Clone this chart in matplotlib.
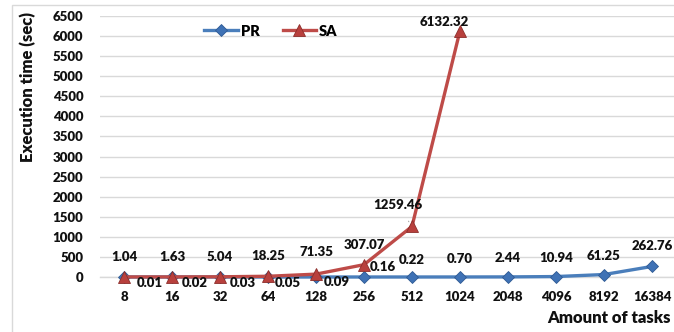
import matplotlib
matplotlib.use("Agg")
import matplotlib.pyplot as plt
from matplotlib.patches import Rectangle

plt.rcParams['font.family'] = ['Lato', 'DejaVu Sans']
plt.rcParams['font.weight'] = 'heavy'
WEIGHT = 'heavy'

tasks = ["8", "16", "32", "64", "128", "256", "512", "1024", "2048", "4096", "8192", "16384"]
pr_times = [0.01, 0.02, 0.03, 0.05, 0.09, 0.16, 0.22, 0.70, 2.44, 10.94, 61.25, 262.76]
sa_times = [1.04, 1.63, 5.04, 18.25, 71.35, 307.07, 1259.46, 6132.32]
y_ticks = list(range(0, 6501, 500))

# label offsets in pixels, per point
pr_offsets = [(26, -6), (23, -6), (23, -6), (20, -6), (21, -5), (19, 10),
              (0, 17), (0, 18), (0, 19), (0, 19), (0, 19), (0, 20)]
sa_offsets = [(0, 20), (0, 20), (0, 20), (0, 20), (0, 22), (0, 20), (-14, 21), (-16, 9)]

W, H = 674, 332
fig = plt.figure(figsize=(W / 100, H / 100), dpi=100)
ax = fig.add_axes([100 / W, (H - 277) / H, 576 / W, 261 / H])

# light chart frame
fig.patches.append(Rectangle((12 / W, -0.1), 2.0, (H - 5) / H + 0.1, transform=fig.transFigure,
                             fill=False, edgecolor='#d9d9d9', linewidth=1.0))

x_pr = list(range(len(pr_times)))
x_sa = list(range(len(sa_times)))

blue = '#4a7ebb'
red = '#be4b48'
ax.plot(x_pr, pr_times, color=blue, linewidth=2.4, marker='D', markersize=6,
        markerfacecolor='#3f72b5', markeredgecolor='#2e5a93', markeredgewidth=0.6,
        label='PR', zorder=3, clip_on=False)
ax.plot(x_sa, sa_times, color=red, linewidth=2.4, marker='^', markersize=8.5,
        markerfacecolor='#b8403d', markeredgecolor='#8c2e2b', markeredgewidth=0.6,
        label='SA', zorder=4, clip_on=False)

lab_kw = dict(textcoords='offset pixels', ha='center', va='center', fontsize=9.5,
              fontweight=WEIGHT, color='#111111', zorder=6)
for xi, v, off in zip(x_pr, pr_times, pr_offsets):
    ax.annotate(f"{v:.2f}", (xi, v), xytext=off, **lab_kw)
for i, (xi, v, off) in enumerate(zip(x_sa, sa_times, sa_offsets)):
    if i == 6:
        ax.annotate(f"{v:.2f}", (xi, v), xytext=off,
                    arrowprops=dict(arrowstyle='-', color='#a0a0a0', lw=0.7,
                                    shrinkA=6, shrinkB=4), **lab_kw)
    else:
        ax.annotate(f"{v:.2f}", (xi, v), xytext=off, **lab_kw)

ax.set_xlim(-0.5, len(tasks) - 0.5)
ax.set_ylim(0, 6500)
ax.set_xticks(x_pr)
ax.set_xticklabels(tasks)
ax.set_yticks(y_ticks)
ax.tick_params(axis='both', length=0, labelsize=9.5, colors='#111111')
ax.tick_params(axis='y', pad=12)
ax.tick_params(axis='x', pad=10)
for lab in ax.get_xticklabels() + ax.get_yticklabels():
    lab.set_fontweight(WEIGHT)

ax.grid(axis='y', color='#d9d9d9', linewidth=1.0)
ax.set_axisbelow(True)
for s in ['top', 'right', 'left']:
    ax.spines[s].set_visible(False)
ax.spines['bottom'].set_color('#d9d9d9')
ax.spines['bottom'].set_linewidth(1.0)

fig.text(28 / W, 1 - 87 / H, 'Execution time (sec)', rotation=90, ha='center', va='center',
         fontsize=12, fontweight=WEIGHT, color='#111111')
fig.text(671 / W, 1 - 318 / H, 'Amount of tasks', ha='right', va='center',
         fontsize=12, fontweight=WEIGHT, color='#111111')

leg = ax.legend(loc='center left', bbox_to_anchor=(191 / W, 1 - 31 / H),
                bbox_transform=fig.transFigure, ncol=2, frameon=False,
                handlelength=2.3, handletextpad=0.2, columnspacing=1.6,
                prop={'weight': WEIGHT, 'size': 10.5})

fig.savefig('out.png', dpi=100)
